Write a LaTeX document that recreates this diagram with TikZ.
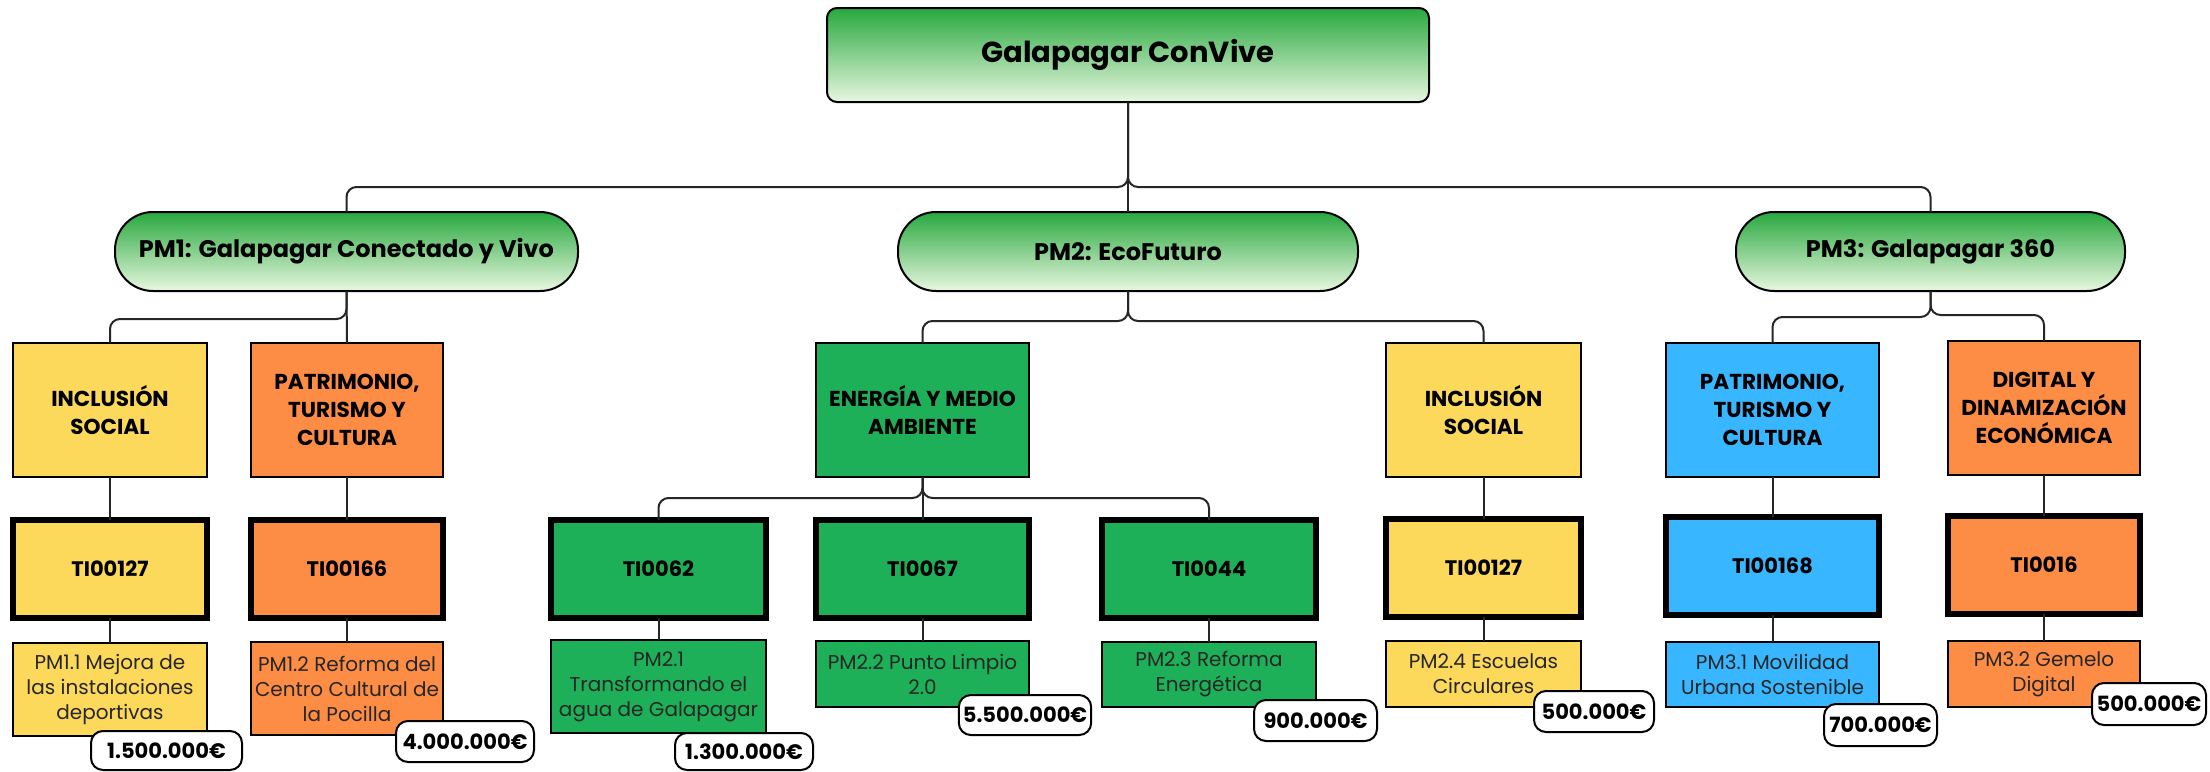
\documentclass[tikz,border=0pt]{standalone}
\usepackage{fontspec}
\setmainfont{Poppins}
\definecolor{cyel}{RGB}{252,217,91}
\definecolor{corg}{RGB}{253,140,69}
\definecolor{cgrn}{RGB}{30,176,88}
\definecolor{cblu}{RGB}{56,182,255}
\definecolor{gtop}{RGB}{40,168,62}
\definecolor{gbot}{RGB}{232,247,224}
\tikzset{
  base/.style={draw=black, inner sep=2pt, align=center, outer sep=0pt},
  gradbox/.style={base, line width=1pt, top color=gtop, bottom color=gbot, rounded corners=5pt, font=\bfseries\fontsize{14.5}{17}\selectfont},
  pill/.style={gradbox, rounded corners=19pt, font=\bfseries\fontsize{12}{14}\selectfont},
  catbox/.style={base, line width=1.2pt, font=\bfseries\fontsize{10.8}{14}\selectfont},
  tibox/.style={base, line width=3.2pt, font=\bfseries\fontsize{10.5}{13}\selectfont},
  pmbox/.style={base, line width=0.8pt, text=black!85, font=\fontsize{10}{12.5}\selectfont},
  money/.style={base, fill=white, line width=1pt, rounded corners=6pt, font=\bfseries\fontsize{10.5}{13}\selectfont},
  conn/.style={draw=black!85, line width=1pt, rounded corners=5pt},
}
\newcommand{\bx}[7]{\node[#2, minimum width=#5*0.5pt, minimum height=#6*0.5pt] (#1) at (#3,#4) {#7};}
\begin{document}
\begin{tikzpicture}[x=0.5pt,y=-0.5pt]
\fill[white] (0,0) rectangle (2210,771);
\useasboundingbox (0,0) rectangle (2210,771);
% level 0 and 1
\bx{top}{gradbox}{1128}{55}{602}{94}{Galapagar ConVive}
\bx{pm1}{pill}{346.5}{251.5}{463}{79}{PM1: Galapagar Conectado y Vivo}
\bx{pm2}{pill}{1128}{251.5}{460}{79}{PM2: EcoFuturo}
\bx{pm3}{pill}{1930.5}{251.5}{389}{79}{PM3: Galapagar 360}
% categories
\bx{c1}{catbox, fill=cyel}{110}{410}{194}{134}{INCLUSIÓN\\SOCIAL}
\bx{c2}{catbox, fill=corg}{347}{410}{192}{134}{PATRIMONIO,\\TURISMO Y\\CULTURA}
\bx{c3}{catbox, fill=cgrn}{922.5}{410}{213}{134}{ENERGÍA Y MEDIO\\AMBIENTE}
\bx{c4}{catbox, fill=cyel}{1483.5}{410}{195}{134}{INCLUSIÓN\\SOCIAL}
\bx{c5}{catbox, fill=cblu}{1772.5}{410}{213}{134}{PATRIMONIO,\\TURISMO Y\\CULTURA}
\bx{c6}{catbox, fill=corg}{2044}{408}{192}{134}{DIGITAL Y\\DINAMIZACIÓN\\ECONÓMICA}
% TI boxes
\bx{t1}{tibox, fill=cyel}{110}{569}{194}{98}{TI00127}
\bx{t2}{tibox, fill=corg}{347}{569}{192}{98}{TI00166}
\bx{t3}{tibox, fill=cgrn}{658.5}{569}{215}{98}{TI0062}
\bx{t4}{tibox, fill=cgrn}{922.5}{569}{213}{98}{TI0067}
\bx{t5}{tibox, fill=cgrn}{1209}{569}{214}{98}{TI0044}
\bx{t6}{tibox, fill=cyel}{1483.5}{568}{195}{98}{TI00127}
\bx{t7}{tibox, fill=cblu}{1772.5}{566}{213}{98}{TI00168}
\bx{t8}{tibox, fill=corg}{2044}{565}{192}{98}{TI0016}
% PM boxes
\bx{p1}{pmbox, fill=cyel}{110}{689.5}{194}{93}{PM1.1 Mejora de\\las instalaciones\\deportivas}
\bx{p2}{pmbox, fill=corg}{347}{688.5}{192}{93}{PM1.2 Reforma del\\Centro Cultural de\\la Pocilla}
\bx{p3}{pmbox, fill=cgrn}{658.5}{686.5}{215}{93}{PM2.1\\Transformando el\\agua de Galapagar}
\bx{p4}{pmbox, fill=cgrn}{922.5}{674}{213}{66}{PM2.2 Punto Limpio\\2.0}
\bx{p5}{pmbox, fill=cgrn}{1209}{674.5}{214}{65}{PM2.3 Reforma\\Energética}
\bx{p6}{pmbox, fill=cyel}{1483.5}{674}{195}{66}{PM2.4 Escuelas\\Circulares}
\bx{p7}{pmbox, fill=cblu}{1772.5}{674.5}{213}{65}{PM3.1 Movilidad\\Urbana Sostenible}
\bx{p8}{pmbox, fill=corg}{2044}{674}{192}{66}{PM3.2 Gemelo\\Digital}
% connectors
\draw[conn] (top.south) -- (pm2.north);
\draw[conn] (pm1.north) -- ++(0,-25) -| (top.south);
\draw[conn] (pm3.north) -- ++(0,-25) -| (top.south);
\draw[conn] (pm1.south) -- (c2.north);
\draw[conn] (c1.north) -- ++(0,-24) -| (pm1.south);
\draw[conn] (c3.north) -- ++(0,-22) -| (pm2.south);
\draw[conn] (c4.north) -- ++(0,-22) -| (pm2.south);
\draw[conn] (c5.north) -- ++(0,-26) -| (pm3.south);
\draw[conn] (c6.north) -- ++(0,-26) -| (pm3.south);
\draw[conn] (c3.south) -- (t4.north);
\draw[conn] (t3.north) -- ++(0,-22) -| (c3.south);
\draw[conn] (t5.north) -- ++(0,-22) -| (c3.south);
\draw[conn] (c1.south) -- (t1.north);
\draw[conn] (c2.south) -- (t2.north);
\draw[conn] (c4.south) -- (t6.north);
\draw[conn] (c5.south) -- (t7.north);
\draw[conn] (c6.south) -- (t8.north);
\draw[conn] (t1.south) -- (p1.north);
\draw[conn] (t2.south) -- (p2.north);
\draw[conn] (t3.south) -- (p3.north);
\draw[conn] (t4.south) -- (p4.north);
\draw[conn] (t5.south) -- (p5.north);
\draw[conn] (t6.south) -- (p6.north);
\draw[conn] (t7.south) -- (p7.north);
\draw[conn] (t8.south) -- (p8.north);
% money labels
\bx{m1}{money}{166.5}{750.5}{151}{39}{1.500.000€}
\bx{m2}{money}{465}{741.5}{138}{41}{4.000.000€}
\bx{m3}{money}{744}{751.5}{138}{37}{1.300.000€}
\bx{m4}{money}{1025}{715}{132}{40}{5.500.000€}
\bx{m5}{money}{1315.5}{720.5}{123}{41}{900.000€}
\bx{m6}{money}{1594}{711.5}{120}{41}{500.000€}
\bx{m7}{money}{1880.5}{725}{113}{42}{700.000€}
\bx{m8}{money}{2149}{704}{114}{42}{500.000€}
\end{tikzpicture}
\end{document}
